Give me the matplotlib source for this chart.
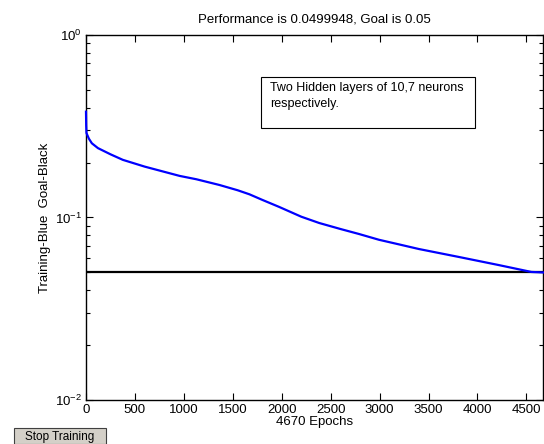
import numpy as np
import matplotlib
matplotlib.use("Agg")
import matplotlib.pyplot as plt
from matplotlib.patches import Rectangle

plt.rcParams['font.family'] = ['Liberation Sans', 'DejaVu Sans']
plt.rcParams['mathtext.fontset'] = 'custom'
plt.rcParams['mathtext.rm'] = 'Liberation Sans'
plt.rcParams['mathtext.it'] = 'Liberation Sans'

# training performance
epochs = [0, 2, 5, 30, 60, 122, 250, 376, 600, 957, 1128, 1364, 1550, 1670,
          1800, 1975, 2200, 2383, 2600, 2790, 2994, 3200, 3401, 3809, 4216,
          4552, 4670]
perf = [0.38, 0.32, 0.29, 0.27, 0.255, 0.24, 0.222, 0.207, 0.19, 0.169,
        0.162, 0.1507, 0.141, 0.134, 0.125, 0.1142, 0.101, 0.0933, 0.0865,
        0.0812, 0.0755, 0.0712, 0.0672, 0.0608, 0.0549, 0.0503, 0.04999]
goal = 0.05
n_epochs = 4670
xticks = [0, 500, 1000, 1500, 2000, 2500, 3000, 3500, 4000, 4500]

fig = plt.figure(figsize=(5.44, 4.44), dpi=100)
ax = fig.add_axes([86 / 544, 1 - 400 / 444, 457 / 544, 365 / 444])

ax.semilogy(epochs, perf, color='#0000ff', lw=1.6, zorder=4, clip_on=False)
ax.axhline(goal, color='black', lw=1.6, zorder=3)

ax.set_xlim(0, n_epochs)
ax.set_ylim(1e-2, 1e0)
ax.set_xticks(xticks)
ax.tick_params(which='both', direction='in', top=True, right=True, labelsize=9.5)
ax.tick_params(which='major', length=5, width=0.8, pad=3)
ax.tick_params(which='minor', length=3, width=0.8)
for s in ax.spines.values():
    s.set_linewidth(1.0)

ax.set_title("Performance is 0.0499948, Goal is 0.05", fontsize=9.5, pad=9)
ax.set_xlabel("4670 Epochs", fontsize=9.5, labelpad=0)
ax.set_ylabel("Training-Blue  Goal-Black", fontsize=9.5, labelpad=3)

# annotation box
box = Rectangle((261 / 544, 1 - 128 / 444), 214 / 544, 51 / 444,
                transform=fig.transFigure, facecolor='white',
                edgecolor='black', lw=0.8, zorder=5)
fig.patches.append(box)
fig.text(270 / 544, 1 - 88 / 444, "Two Hidden layers of 10,7 neurons",
         fontsize=9, va='center', ha='left', zorder=6)
fig.text(270 / 544, 1 - 104 / 444, "respectively.",
         fontsize=9, va='center', ha='left', zorder=6)

# "Stop Training" button of the training window
btn = Rectangle((14 / 544, 0), 92 / 544, 16 / 444, transform=fig.transFigure,
                facecolor='#d4d0c8', edgecolor='#404040', lw=0.8)
fig.patches.append(btn)
fig.text(60 / 544, 1 - 437 / 444, "Stop Training", fontsize=8.5,
         ha='center', va='center')

fig.savefig("out.png", dpi=100)
